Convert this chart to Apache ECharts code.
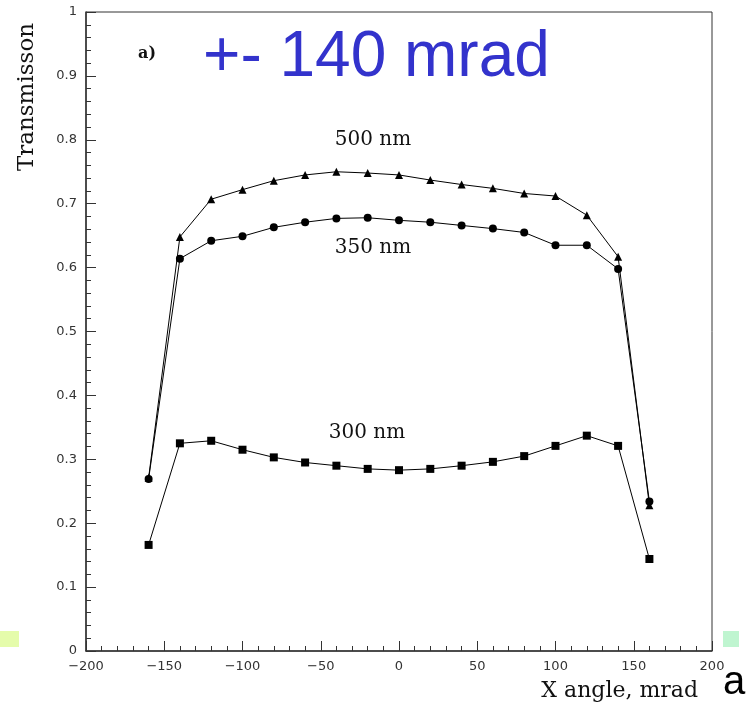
<!DOCTYPE html>
<html>
<head>
<meta charset="utf-8">
<script src="https://cdn.jsdelivr.net/npm/echarts@6/dist/echarts.min.js"></script>
<style>
  html, body { margin: 0; padding: 0; background: #fff; }
  #chart { width: 755px; height: 711px; }
</style>
</head>
<body>
<div id="chart"></div>
<script>
// x angle (mrad)
var angles = [-160, -140, -120, -100, -80, -60, -40, -20, 0, 20, 40, 60, 80, 100, 120, 140, 160]
// transmission values
var t500 = [0.271, 0.648, 0.707, 0.722, 0.736, 0.745, 0.750, 0.748, 0.745, 0.737, 0.730, 0.724, 0.716, 0.712, 0.682, 0.617, 0.228]
var t350 = [0.269, 0.614, 0.642, 0.649, 0.663, 0.671, 0.677, 0.678, 0.674, 0.671, 0.666, 0.661, 0.655, 0.635, 0.635, 0.598, 0.234]
var t300 = [0.166, 0.325, 0.329, 0.315, 0.303, 0.295, 0.290, 0.285, 0.283, 0.285, 0.290, 0.296, 0.305, 0.321, 0.337, 0.321, 0.144]

function pairs(ys) {
  return angles.map(function(x, i) { return [x, ys[i]] })
}

var chart = echarts.init(document.getElementById('chart'))

var lineStyle = { color: '#000', width: 1 }

chart.setOption({
  animation: false,
  backgroundColor: '#fff',
  grid: {
    left: 86, right: 43, top: 12, bottom: 60,
    show: true,
    borderColor: '#333',
    borderWidth: 1
  },
  xAxis: {
    type: 'value',
    min: -200, max: 200, interval: 50,
    axisLine: { onZero: false, lineStyle: { color: '#333', width: 1.5 } },
    axisTick: { inside: true, length: 10, lineStyle: { color: '#333' } },
    minorTick: { show: true, splitNumber: 5, length: 5, lineStyle: { color: '#333' } },
    splitLine: { show: false },
    axisLabel: {
      margin: 9,
      fontFamily: 'DejaVu Sans', fontSize: 13, color: '#333',
      formatter: function(v) { return String(v).replace('-', '\u2212') }
    }
  },
  yAxis: {
    type: 'value',
    min: 0, max: 1, interval: 0.1,
    axisLine: { show: true, onZero: false, lineStyle: { color: '#333', width: 1.5 } },
    axisTick: { show: true, inside: true, length: 10, lineStyle: { color: '#333' } },
    minorTick: { show: true, splitNumber: 5, length: 5, lineStyle: { color: '#333' } },
    splitLine: { show: false },
    axisLabel: { margin: 9, fontFamily: 'DejaVu Sans', fontSize: 13, color: '#333' }
  },
  series: [
    {
      name: '500 nm', type: 'line', data: pairs(t500),
      symbol: 'triangle', symbolSize: 8,
      lineStyle: lineStyle, itemStyle: { color: '#000' }
    },
    {
      name: '350 nm', type: 'line', data: pairs(t350),
      symbol: 'circle', symbolSize: 8,
      lineStyle: lineStyle, itemStyle: { color: '#000' }
    },
    {
      name: '300 nm', type: 'line', data: pairs(t300),
      symbol: 'rect', symbolSize: 8,
      lineStyle: lineStyle, itemStyle: { color: '#000' }
    }
  ],
  graphic: [
    { type: 'text', x: 203, y: 58, style: { text: '+- 140 mrad', font: '64px "Liberation Sans", Arial, sans-serif', fill: '#3333cc', verticalAlign: 'middle' } },
    { type: 'text', x: 147, y: 54, style: { text: 'a)', font: 'bold 16px "DejaVu Serif"', fill: '#111', align: 'center', verticalAlign: 'middle' } },
    { type: 'text', x: 373, y: 140, style: { text: '500 nm', font: '20px "DejaVu Serif"', fill: '#111', align: 'center', verticalAlign: 'middle' } },
    { type: 'text', x: 373, y: 248, style: { text: '350 nm', font: '20px "DejaVu Serif"', fill: '#111', align: 'center', verticalAlign: 'middle' } },
    { type: 'text', x: 367, y: 433, style: { text: '300 nm', font: '20px "DejaVu Serif"', fill: '#111', align: 'center', verticalAlign: 'middle' } },
    { type: 'text', x: 698, y: 691, style: { text: 'X angle, mrad', font: '22px "DejaVu Serif"', fill: '#111', align: 'right', verticalAlign: 'middle' } },
    { type: 'text', x: 27, y: 97, rotation: Math.PI / 2, style: { text: 'Transmisson', font: '23px "DejaVu Serif"', fill: '#111', align: 'center', verticalAlign: 'middle' } },
    { type: 'text', x: 734, y: 683, style: { text: 'a', font: '40px "Liberation Sans", Arial, sans-serif', fill: '#000', align: 'center', verticalAlign: 'middle' } },
    { type: 'rect', shape: { x: 723, y: 631, width: 16, height: 16 }, style: { fill: '#bff5d0' } },
    { type: 'rect', shape: { x: 0, y: 631, width: 19, height: 16 }, style: { fill: '#e5fcab' } }
  ]
})
</script>
</body>
</html>
